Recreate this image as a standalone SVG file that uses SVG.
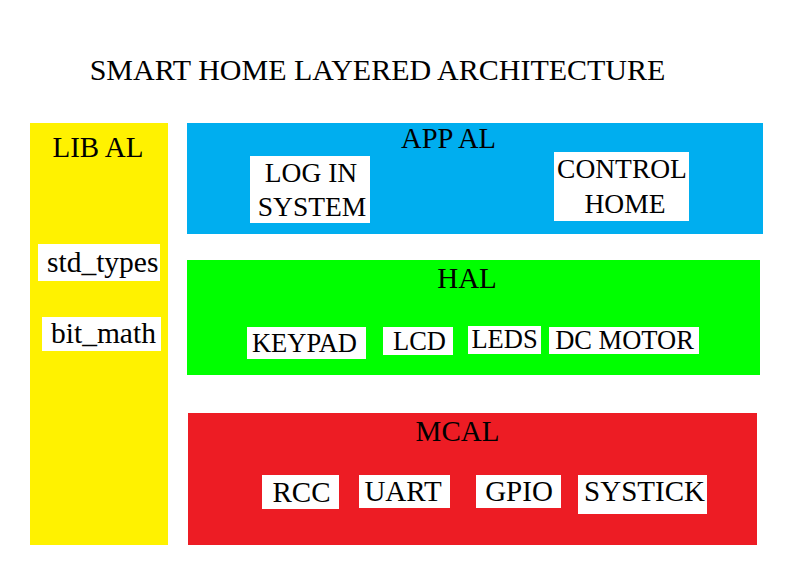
<svg xmlns="http://www.w3.org/2000/svg" width="800" height="570" viewBox="0 0 800 570">
<style>
text{font-family:'Liberation Serif','Times New Roman',serif;font-size:29px;fill:#000}
.c{text-anchor:middle}
.box{fill:#fff}
.s{font-size:27.5px}
.h{font-size:26.5px}
</style>
<rect width="800" height="570" fill="#fff"/>
<text id="title" x="377.5" y="80" class="c" style="font-size:30px">SMART HOME LAYERED ARCHITECTURE</text>
<g id="lib">
<rect x="30" y="123" width="138" height="422" fill="#fff200"/>
<text x="98" y="157" class="c">LIB AL</text>
<g id="std_types"><rect class="box" x="38" y="244" width="122" height="37"/><text x="47" y="272" style="font-size:29.5px">std_types</text></g>
<g id="bit_math"><rect class="box" x="42" y="317" width="119" height="34"/><text x="51" y="343" style="font-size:29.5px">bit_math</text></g>
</g>
<g id="app">
<rect x="187" y="123" width="576" height="111" fill="#00aeef"/>
<text x="448.5" y="148" class="c" style="font-size:28.5px">APP AL</text>
<g id="login"><rect class="box" x="250" y="156" width="120" height="67"/><text x="311" y="182" class="c s">LOG IN</text><text x="312" y="216" class="c s">SYSTEM</text></g>
<g id="control"><rect class="box" x="554" y="152" width="135" height="69"/><text x="622" y="178" class="c s">CONTROL</text><text x="625" y="213" class="c s">HOME</text></g>
</g>
<g id="hal">
<rect x="187" y="260" width="573" height="115" fill="#00ff00"/>
<text x="467" y="288" class="c">HAL</text>
<g id="keypad"><rect class="box" x="247" y="327" width="119" height="32"/><text x="304.5" y="352" class="c h">KEYPAD</text></g>
<g id="lcd"><rect class="box" x="383" y="327" width="70" height="28"/><text x="419.5" y="350" class="c h">LCD</text></g>
<g id="leds"><rect class="box" x="468" y="326" width="73" height="28"/><text x="504.5" y="348" class="c h">LEDS</text></g>
<g id="dcmotor"><rect class="box" x="549" y="327" width="150" height="27"/><text x="624.5" y="349" class="c h">DC MOTOR</text></g>
</g>
<g id="mcal">
<rect x="188" y="413" width="569" height="132" fill="#ed1c24"/>
<text x="457.5" y="441" class="c">MCAL</text>
<g id="rcc"><rect class="box" x="262" y="475" width="77" height="34"/><text x="301.5" y="502" class="c">RCC</text></g>
<g id="uart"><rect class="box" x="359" y="475" width="91" height="33"/><text x="403" y="501" class="c">UART</text></g>
<g id="gpio"><rect class="box" x="476" y="475" width="85" height="33"/><text x="519" y="501" class="c">GPIO</text></g>
<g id="systick"><rect class="box" x="578" y="475" width="129" height="39"/><text x="644.5" y="501" class="c">SYSTICK</text></g>
</g>
<g id="connectors"/>
</svg>
